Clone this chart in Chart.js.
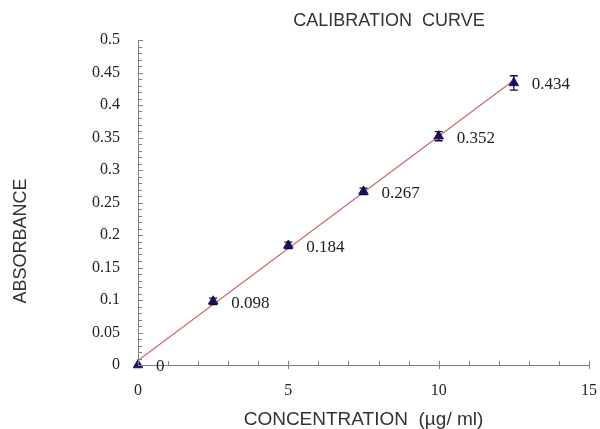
<!DOCTYPE html>
<html>
<head>
<meta charset="utf-8">
<script src="https://cdn.jsdelivr.net/npm/chart.js@4"></script>
<style>
html,body{margin:0;padding:0;background:#fff;}
#wrap{width:600px;height:429px;position:relative;}
</style>
</head>
<body>
<div id="wrap"><canvas id="c" width="600" height="429"></canvas></div>
<script>
// ---- data ----
const concentration = [0, 2.5, 5, 7.5, 10, 12.5];
const absorbance = [0, 0.098, 0.184, 0.267, 0.352, 0.434];
const errorBars = [0, 0.005, 0.005, 0.005, 0.007, 0.011];
const pointLabels = ['0', '0.098', '0.184', '0.267', '0.352', '0.434'];
const trendX = [0, 12.5];
const trendY = [0.007, 0.438];
const xTicks = [0, 5, 10, 15];
const yTicks = [0, 0.05, 0.1, 0.15, 0.2, 0.25, 0.3, 0.35, 0.4, 0.45, 0.5];
const chartTitle = 'CALIBRATION  CURVE';
const xTitle = 'CONCENTRATION  (\u00b5g/ ml)';
const yTitle = 'ABSORBANCE';

const SERIF = '"Liberation Serif","Times New Roman",serif';
const SANS = '"Liberation Sans",Arial,sans-serif';

const decor = {
  id: 'decor',
  afterDraw(chart) {
    const ctx = chart.ctx;
    const xs = chart.scales.x, ys = chart.scales.y;
    const x0 = xs.getPixelForValue(0), y0 = ys.getPixelForValue(0);
    ctx.save();
    // axis lines
    ctx.strokeStyle = '#808080';
    ctx.lineWidth = 1;
    ctx.beginPath();
    ctx.moveTo(Math.round(x0) + 0.5, ys.getPixelForValue(0.5));
    ctx.lineTo(Math.round(x0) + 0.5, y0);
    ctx.moveTo(x0, Math.round(y0) + 0.5);
    ctx.lineTo(xs.getPixelForValue(15), Math.round(y0) + 0.5);
    ctx.stroke();
    // y minor/major ticks (inside)
    ctx.beginPath();
    for (let i = 0; i <= 50; i++) {
      const py = Math.round(ys.getPixelForValue(i / 100)) + 0.5;
      const len = (i % 5 === 0) ? 5 : 4;
      ctx.moveTo(Math.round(x0), py);
      ctx.lineTo(Math.round(x0) + len, py);
    }
    // x ticks
    for (let i = 1; i <= 15; i++) {
      const px = Math.round(xs.getPixelForValue(i)) + 0.5;
      const major = i % 5 === 0;
      ctx.moveTo(px, Math.round(y0) - 4);
      ctx.lineTo(px, Math.round(y0) + (major ? 4 : 0));
    }
    ctx.stroke();
    // error bars
    ctx.strokeStyle = '#111133';
    ctx.lineWidth = 1.3;
    ctx.beginPath();
    concentration.forEach((c, i) => {
      if (!errorBars[i]) return;
      const px = xs.getPixelForValue(c);
      const top = ys.getPixelForValue(absorbance[i] + errorBars[i]);
      const bot = ys.getPixelForValue(absorbance[i] - errorBars[i]);
      ctx.moveTo(px, top); ctx.lineTo(px, bot);
      ctx.moveTo(px - 4, top); ctx.lineTo(px + 4, top);
      ctx.moveTo(px - 4, bot); ctx.lineTo(px + 4, bot);
    });
    ctx.stroke();
    // point labels
    ctx.fillStyle = '#222';
    ctx.font = '17px ' + SERIF;
    ctx.textAlign = 'left';
    ctx.textBaseline = 'middle';
    concentration.forEach((c, i) => {
      ctx.fillText(pointLabels[i], xs.getPixelForValue(c) + 18, ys.getPixelForValue(absorbance[i]) + 2);
    });
    // title
    ctx.font = '18px ' + SANS;
    ctx.fillStyle = '#333';
    ctx.textAlign = 'center';
    ctx.fillText(chartTitle, 389, 21);
    // y axis title
    ctx.translate(21, 241);
    ctx.rotate(-Math.PI / 2);
    ctx.fillText(yTitle, 0, 0);
    ctx.restore();
  }
};

new Chart(document.getElementById('c'), {
  type: 'scatter',
  data: {
    datasets: [
      {
        label: 'trend',
        data: trendX.map((x, i) => ({x, y: trendY[i]})),
        showLine: true,
        borderColor: '#cc6a6a',
        borderWidth: 1.2,
        pointRadius: 0,
        order: 2
      },
      {
        label: 'absorbance',
        data: concentration.map((x, i) => ({x, y: absorbance[i]})),
        pointStyle: 'triangle',
        pointRadius: 5.5,
        backgroundColor: '#1d1066',
        borderColor: '#1d1066',
        borderWidth: 1,
        clip: false,
        order: 1
      }
    ]
  },
  options: {
    responsive: false,
    animation: false,
    layout: {padding: {top: 40, right: 0, bottom: 0, left: 0}},
    plugins: {legend: {display: false}, tooltip: {enabled: false}},
    scales: {
      x: {
        type: 'linear', min: 0, max: 15,
        afterBuildTicks(s) { s.ticks = xTicks.map(v => ({value: v})); },
        afterFit(s) { s.height = 64; s.paddingRight = 11; s.paddingLeft = 0; },
        grid: {display: false},
        border: {display: false},
        ticks: {font: {family: SERIF, size: 16}, color: '#222', padding: 8},
        title: {display: true, text: xTitle, font: {family: SANS, size: 19}, color: '#333', padding: {top: 0, bottom: -2}}
      },
      y: {
        type: 'linear', min: 0, max: 0.5,
        afterBuildTicks(s) { s.ticks = yTicks.map(v => ({value: v})); },
        afterFit(s) { s.width = 138; },
        grid: {display: false},
        border: {display: false},
        ticks: {font: {family: SERIF, size: 16}, color: '#222', padding: 10,
          callback: v => String(v)},
        title: {display: false}
      }
    }
  },
  plugins: [decor]
});
</script>
</body>
</html>
